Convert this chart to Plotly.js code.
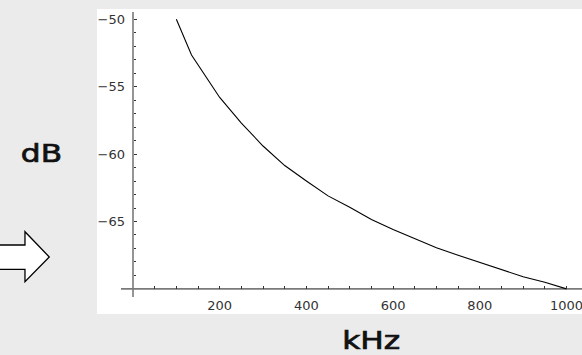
<!DOCTYPE html>
<html><head><meta charset="utf-8">
<script src="https://cdn.plot.ly/plotly-3.0.1.min.js"></script>
<style>html,body{margin:0;padding:0;background:#ebebeb;}#plot{width:582px;height:355px;}</style>
</head><body><div id="plot"></div>
<script>
// Data
const freqKHz = [100,135,200,250,300,350,400,450,500,550,600,650,700,750,800,850,900,950,1000];
const levelDB = [-50,-52.65,-55.8,-57.7,-59.4,-60.85,-62.0,-63.1,-63.95,-64.85,-65.6,-66.25,-66.95,-67.5,-68.05,-68.6,-69.1,-69.5,-70.0];
const xTickVals = [200,400,600,800,1000];
const xTickText = ['200','400','600','800','1000'];
const yTickVals = [-65,-60,-55,-50];
const yTickText = ['\u221265','\u221260','\u221255','\u221250'];
const xMinorVals = [50,100,150,250,300,350,450,500,550,650,700,750,850,900,950];
const yMinorVals = [-69,-68,-67,-66,-64,-63,-62,-61,-59,-58,-57,-56,-54,-53,-52,-51];

// plot area geometry (pixels)
const L = 97, T = 9, W = 485, H = 305;
const px = x => (x - L) / W;
const py = y => (T + H - y) / H;

const arrowPts = [[-5,245],[25,245],[25,231.7],[49.3,257],[25,281.7],[25,269.3],[-5,269.3]];
const arrowPath = 'M ' + arrowPts.map(p => px(p[0]).toFixed(4) + ',' + py(p[1]).toFixed(4)).join(' L ') + ' Z';

const axisColor = '#7a7a7a';
const tickColor = '#333333';
const tickFont = {family: 'DejaVu Sans, sans-serif', size: 13, color: '#333333'};
const titleFont = {family: 'DejaVu Sans, sans-serif', size: 25, color: '#111111'};

const data = [{
  x: freqKHz, y: levelDB, type: 'scatter', mode: 'lines',
  line: {color: '#000000', width: 1.1}, hoverinfo: 'skip'
}];

const layout = {
  width: 582, height: 355,
  margin: {l: L, r: 582 - L - W, t: T, b: 355 - T - H, pad: 0},
  paper_bgcolor: '#ebebeb', plot_bgcolor: '#ffffff',
  showlegend: false,
  xaxis: {
    range: [-83.04, 1035.8], showgrid: false, zeroline: false, showline: false,
    anchor: 'free', position: 0.0823,
    tickmode: 'array', tickvals: xTickVals, ticktext: xTickText,
    ticks: 'inside', ticklen: 2.5, tickwidth: 1, tickcolor: tickColor,
    tickfont: tickFont, ticklabelstandoff: 7, ticklabeloverflow: 'allow',
    minor: {tickmode: 'array', tickvals: xMinorVals, ticks: 'inside', ticklen: 2.5, tickwidth: 1, tickcolor: tickColor, showgrid: false}
  },
  yaxis: {
    range: [-71.862, -49.236], showgrid: false, zeroline: false, showline: false,
    anchor: 'free', position: 0.0742,
    tickmode: 'array', tickvals: yTickVals, ticktext: yTickText,
    ticks: 'inside', ticklen: 3.5, tickwidth: 1, tickcolor: tickColor,
    tickfont: tickFont, ticklabelstandoff: 8, ticklabeloverflow: 'allow',
    minor: {tickmode: 'array', tickvals: yMinorVals, ticks: 'inside', ticklen: 2, tickwidth: 1, tickcolor: tickColor, showgrid: false}
  },
  shapes: [
    {type: 'line', xref: 'x', yref: 'y', x0: -27.7, x1: 1035.8, y0: -70, y1: -70, line: {color: axisColor, width: 1.6}, layer: 'below'},
    {type: 'line', xref: 'x', yref: 'y', x0: 0, x1: 0, y0: -70.6, y1: -49.46, line: {color: axisColor, width: 1.6}, layer: 'below'},
    {type: 'path', xref: 'paper', yref: 'paper', path: arrowPath, line: {color: '#000000', width: 1.3}, fillcolor: '#ffffff'}
  ],
  annotations: [
    {text: 'dB', xref: 'paper', yref: 'paper', x: px(41), y: py(153.5), xanchor: 'center', yanchor: 'middle', showarrow: false, font: titleFont},
    {text: 'kHz', xref: 'paper', yref: 'paper', x: px(371), y: py(340.5), xanchor: 'center', yanchor: 'middle', showarrow: false, font: titleFont}
  ]
};

Plotly.newPlot('plot', data, layout, {displayModeBar: false, staticPlot: true}).then(gd => {
  // the reference's axis labels are horizontally widened and semi-bold
  const stretch = 1.25;
  gd.querySelectorAll('.annotation-text').forEach(t => {
    const b = t.getBBox();
    const cx = b.x + b.width / 2;
    t.setAttribute('transform', `translate(${cx},0) scale(${stretch},1) translate(${-cx},0)`);
    t.style.stroke = '#111111';
    t.style.strokeWidth = '0.7px';
  });
});
</script></body></html>
